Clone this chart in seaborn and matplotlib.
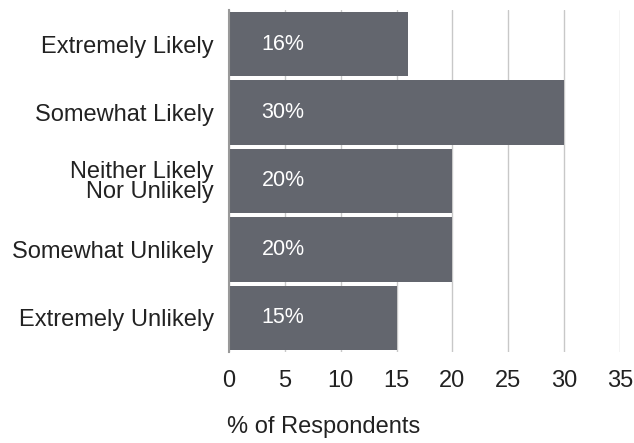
import matplotlib
matplotlib.use("Agg")
import matplotlib.pyplot as plt
import seaborn as sns
import pandas as pd

categories = ["Extremely Likely", "Somewhat Likely", "Neither Likely\nNor Unlikely",
              "Somewhat Unlikely", "Extremely Unlikely"]
values = [16, 30, 20, 20, 15]
bar_labels = ["16%", "30%", "20%", "20%", "15%"]
x_ticks = [0, 5, 10, 15, 20, 25, 30, 35]

sns.set_theme(style="white")
plt.rcParams['font.family'] = ['Liberation Sans', 'DejaVu Sans']

df = pd.DataFrame({"cat": categories, "val": values})

fig = plt.figure(figsize=(6.34, 4.43), dpi=100)
ax = fig.add_axes([229/634, 1-352/443, (620-229)/634, (352-10)/443])

sns.barplot(data=df, y="cat", x="val", orient="h", color="#63666e",
            saturation=1, width=0.94, ax=ax, zorder=3, edgecolor="none")

ax.set_xlim(0, 35)
ax.set_ylim(4.5, -0.5)
ax.set_xticks(x_ticks)
ax.set_xticklabels([str(t) for t in x_ticks], fontsize=17, color="#222222")
ax.tick_params(axis="x", length=8, color="#c8c8c8", width=1, pad=5)
ax.tick_params(axis="y", length=0, pad=11, labelsize=17, labelcolor="#222222")
for lab in ax.get_yticklabels():
    lab.set_horizontalalignment("right")
    lab.set_multialignment("right")
    lab.set_linespacing(0.88)

ax.grid(axis="x", color="#c8c8c8", linewidth=1, zorder=0)
ax.set_axisbelow(True)
for s in ["top", "right", "bottom"]:
    ax.spines[s].set_visible(False)
ax.spines["left"].set_color("#999999")
ax.spines["left"].set_linewidth(1.5)
ax.spines["left"].set_zorder(4)

for i, (v, t) in enumerate(zip(values, bar_labels)):
    ax.text(2.9, i, t, color="white", fontsize=15.5, va="center", ha="left", zorder=5)

ax.set_ylabel("")
ax.set_xlabel("% of Respondents", fontsize=17, color="#222222", loc="left", labelpad=17)
ax.xaxis.label.set_x(-0.005)

fig.savefig("out.png", dpi=100)
